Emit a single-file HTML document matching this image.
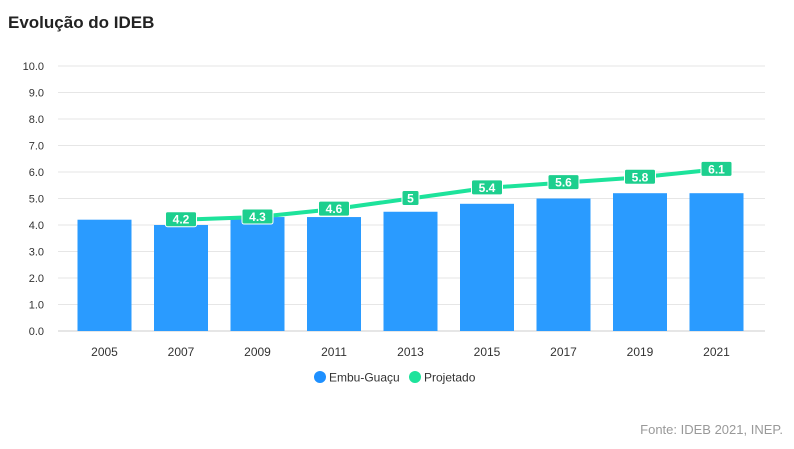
<!DOCTYPE html>
<html><head><meta charset="utf-8"><style>
body{margin:0;width:794px;height:444px;background:#fff;font-family:"Liberation Sans",sans-serif;overflow:hidden}
</style></head><body>
<svg id="c" width="794" height="444" xmlns="http://www.w3.org/2000/svg">
<text x="8" y="28" font-size="17" font-weight="bold" fill="#222">Evolução do IDEB</text>
<g id="grid"></g><g id="bars"></g><g id="line"></g><g id="xl"></g>
<g>
<circle cx="320" cy="377" r="6" fill="#1e90ff"/>
<text x="329" y="381.5" font-size="12" fill="#333">Embu-Guaçu</text>
<circle cx="415" cy="377" r="6" fill="#1de39b"/>
<text x="424" y="381.5" font-size="12" fill="#333">Projetado</text>
</g>
<text x="783" y="434" font-size="13" fill="#999" text-anchor="end">Fonte: IDEB 2021, INEP.</text>
</svg>
<script>
const years=["2005","2007","2009","2011","2013","2015","2017","2019","2021"];
const ideb=[4.2,4.0,4.3,4.3,4.5,4.8,5.0,5.2,5.2];
const projYears=["2007","2009","2011","2013","2015","2017","2019","2021"];
const projected=[4.2,4.3,4.6,5,5.4,5.6,5.8,6.1];
const yTicks=[0,1,2,3,4,5,6,7,8,9,10];
const NS="http://www.w3.org/2000/svg";
const y=v=>331-v*26.5;
const x=yr=>104.5+years.indexOf(yr)*76.5;
function mk(t,a,p){const e=document.createElementNS(NS,t);for(const k in a)e.setAttribute(k,a[k]);p.appendChild(e);return e;}
const g=document.getElementById('grid');
yTicks.forEach(v=>{
 const l=mk('line',{x1:58,x2:765,y1:y(v),y2:y(v),stroke:v===0?'#ccc':'#e6e6e6','stroke-width':1},g);
 
 
 const t=mk('text',{x:44,y:y(v)+4,'font-size':11,fill:'#333','text-anchor':'end'},g);
 t.textContent=v.toFixed(1);
 
 
});
const b=document.getElementById('bars');
ideb.forEach((v,i)=>{
 const r=mk('rect',{x:x(years[i])-27,y:y(v),width:54,height:y(0)-y(v),fill:'#2a9bff'},b);
 
 
 const t=mk('text',{x:x(years[i]),y:356,'font-size':12,fill:'#333','text-anchor':'middle'},document.getElementById('xl'));
 t.textContent=years[i];
 
 
});
const L=document.getElementById('line');
const pts=projected.map((v,i)=>x(projYears[i])+','+y(v)).join(' ');
const pl=mk('polyline',{points:pts,fill:'none',stroke:'#1de39b','stroke-width':4,'stroke-linejoin':'round'},L);


projected.forEach((v,i)=>{
 const s=String(v),w=s.length*7+10,cx=x(projYears[i]),cy=y(v);
 const r=mk('rect',{x:cx-w/2,y:cy-8,width:w,height:15,rx:2,fill:'#1dcf8e',stroke:'#fff','stroke-width':1},L);
 
 
 const t=mk('text',{x:cx,y:cy+4,'font-size':12,'font-weight':'bold',fill:'#fff','text-anchor':'middle'},L);
 t.textContent=s;
 
 
});
</script>
</body></html>
